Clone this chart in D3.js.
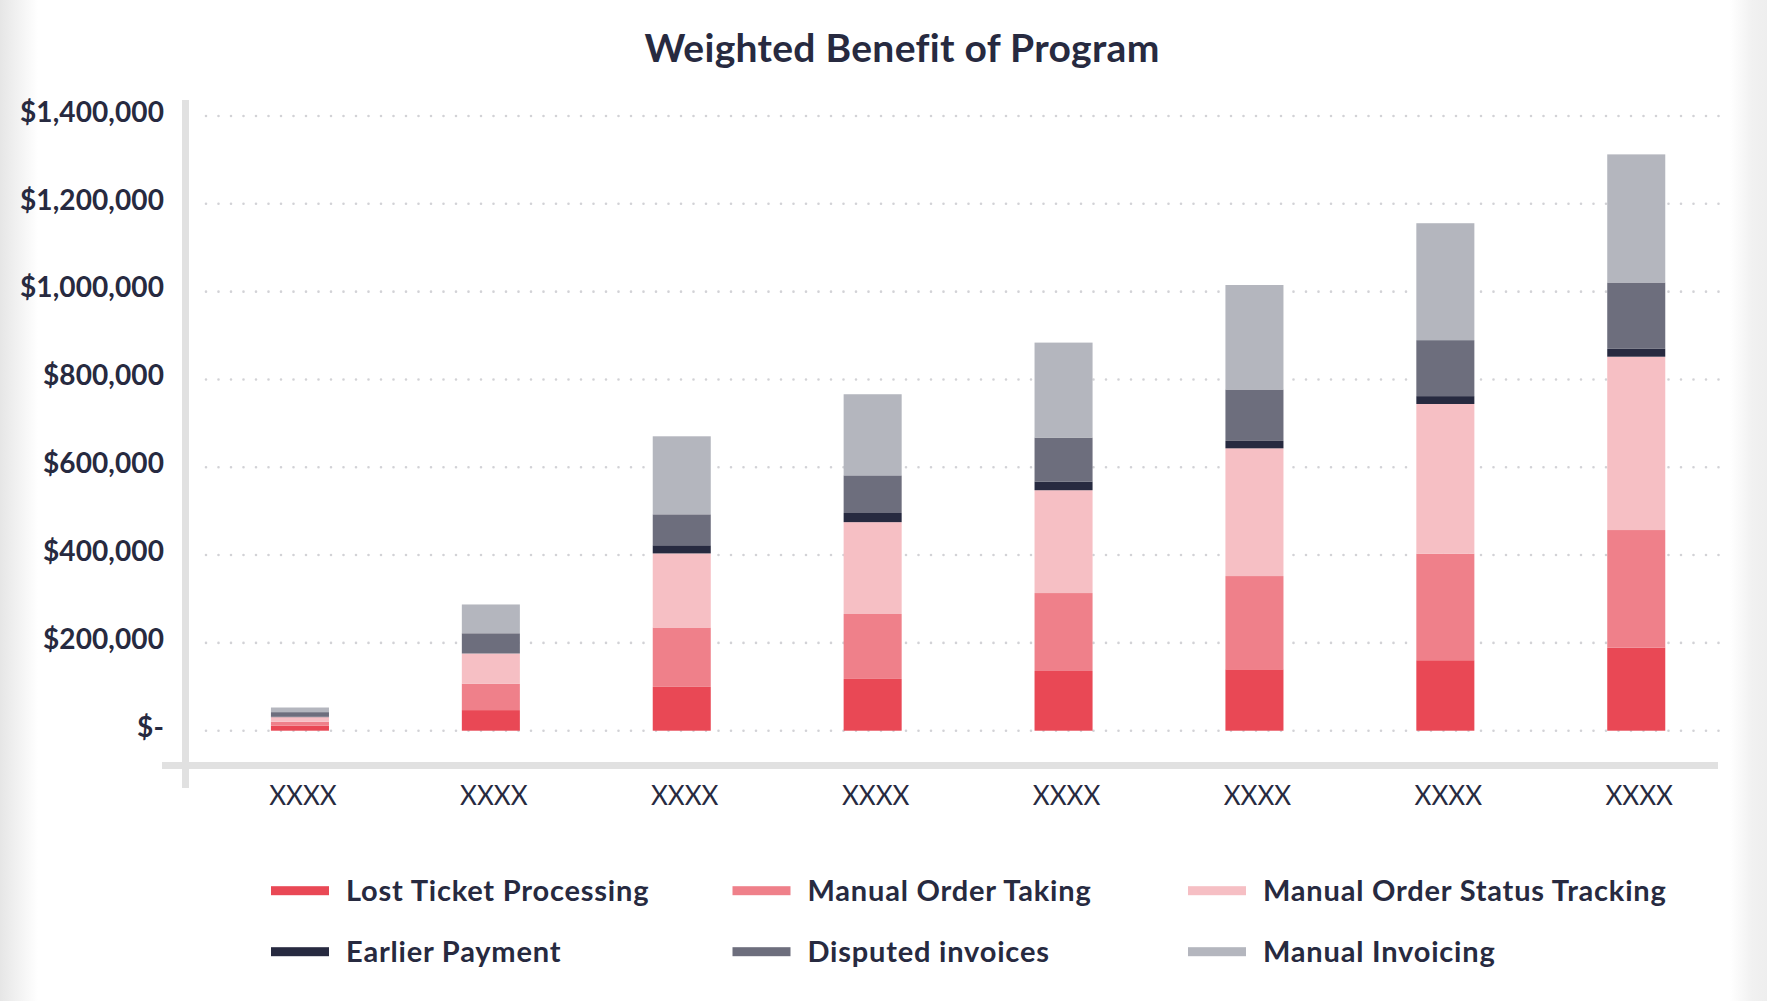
<!DOCTYPE html>
<html>
<head>
<meta charset="utf-8">
<script src="https://cdn.jsdelivr.net/npm/d3@7"></script>
<style>
  body { margin: 0; background: #ffffff; }
  svg { display: block; }
  text { font-family: Lato, "Open Sans", sans-serif; fill: #272a40; }
</style>
</head>
<body>
<svg id="mainSvg" width="1767" height="1001"></svg>
<script>
// values, one segment per series (not cumulative)
var years = ["XXXX","XXXX","XXXX","XXXX","XXXX","XXXX","XXXX","XXXX"];
var lostTicket    = [11300, 46900, 99800, 117900, 136000, 139800, 160500, 188900];
var orderTaking   = [9100, 60300, 135200, 147900, 177500, 212400, 242700, 268100];
var statusTrack   = [10500, 68600, 168800, 209200, 234200, 290900, 340900, 394800];
var earlyPayment  = [1000, 0, 18500, 20800, 19800, 16900, 17900, 17900];
var disputed      = [10400, 46100, 70500, 85700, 100100, 117100, 127500, 151100];
var manualInvoice = [10500, 65600, 177700, 184800, 216300, 238000, 266300, 291800];
var seriesNames = ["Lost Ticket Processing","Manual Order Taking","Manual Order Status Tracking",
                   "Earlier Payment","Disputed invoices","Manual Invoicing"];
var seriesColors = ["#e94855","#ef808a","#f6bfc4","#272a40","#6d6e7d","#b4b6be"];
var yTicks = [0, 200000, 400000, 600000, 800000, 1000000, 1200000, 1400000];

var svg = d3.select("#mainSvg");
var W = 1767, H = 1001;

// page background with the grey edges of the screenshot
var defs = svg.append("defs");
var gl = defs.append("linearGradient").attr("id","leftEdge");
gl.append("stop").attr("offset","0%").attr("stop-color","#e6e6e6");
gl.append("stop").attr("offset","100%").attr("stop-color","#ffffff");
var gr = defs.append("linearGradient").attr("id","rightEdge");
gr.append("stop").attr("offset","0%").attr("stop-color","#ffffff");
gr.append("stop").attr("offset","60%").attr("stop-color","#f1f1f1");
gr.append("stop").attr("offset","100%").attr("stop-color","#eeeeee");
svg.append("rect").attr("width",W).attr("height",H).attr("fill","#ffffff");
svg.append("rect").attr("x",0).attr("y",0).attr("width",38).attr("height",H).attr("fill","url(#leftEdge)");
svg.append("rect").attr("x",1730).attr("y",0).attr("width",37).attr("height",H).attr("fill","url(#rightEdge)");

var y = d3.scaleLinear().domain([0, 1400000]).range([730.7, 116]);
var x = d3.scaleBand().domain(d3.range(years.length))
  .range([204.5, 1731.7]).paddingInner(0.696).paddingOuter(0.348);

// title
svg.append("text")
  .attr("x", 902).attr("y", 62)
  .attr("text-anchor","middle")
  .attr("font-size", 39).attr("font-weight", 700)
  .attr("letter-spacing", 0.3)
  .text("Weighted Benefit of Program");

// dotted gridlines
svg.selectAll(".grid")
  .data(yTicks)
  .enter().append("line")
    .attr("class","grid")
    .attr("x1", 206).attr("x2", 1720)
    .attr("y1", function(d){ return y(d); })
    .attr("y2", function(d){ return y(d); })
    .attr("stroke","#d2d2d6")
    .attr("stroke-width", 2.6)
    .attr("stroke-linecap","round")
    .attr("stroke-dasharray","0,12.5");

// y tick labels
var fmt = d3.format(",");
svg.selectAll(".ytick")
  .data(yTicks)
  .enter().append("text")
    .attr("class","ytick")
    .attr("x", 164)
    .attr("y", function(d){ return y(d) - 4; })
    .attr("dy","0.35em")
    .attr("text-anchor","end")
    .attr("font-size", 28).attr("font-weight", 700)
    .attr("letter-spacing", 0.1)
    .text(function(d){ return d === 0 ? "$-" : "$" + fmt(d); });

// stacked bars
var rows = years.map(function(yr, i){
  return {i: i, s0: lostTicket[i], s1: orderTaking[i], s2: statusTrack[i],
          s3: earlyPayment[i], s4: disputed[i], s5: manualInvoice[i]};
});
var stack = d3.stack().keys(["s0","s1","s2","s3","s4","s5"])(rows);

svg.selectAll(".series")
  .data(stack)
  .enter().append("g")
    .attr("class","series")
    .attr("fill", function(d, k){ return seriesColors[k]; })
  .selectAll("rect")
  .data(function(d){ return d; })
  .enter().append("rect")
    .attr("x", function(d){ return x(d.data.i); })
    .attr("width", x.bandwidth())
    .attr("y", function(d){ return y(d[1]); })
    .attr("height", function(d){ return y(d[0]) - y(d[1]); });

// axis lines (thick light grey, crossing at bottom left)
svg.append("line")
  .attr("x1", 162).attr("x2", 1718).attr("y1", 765.5).attr("y2", 765.5)
  .attr("stroke","#e1e1e1").attr("stroke-width", 7);
svg.append("line")
  .attr("x1", 185.5).attr("x2", 185.5).attr("y1", 100).attr("y2", 788)
  .attr("stroke","#e1e1e1").attr("stroke-width", 7);

// x labels
svg.selectAll(".xlabel")
  .data(years)
  .enter().append("text")
    .attr("class","xlabel")
    .attr("x", function(d, i){ return x(i) + x.bandwidth()/2 + 3; })
    .attr("y", 805)
    .attr("text-anchor","middle")
    .attr("font-size", 26)
    .text(function(d){ return d; });

// legend, 3 columns x 2 rows
var legendCols = [271, 732.5, 1188];
var legendRows = [890.7, 951.7];
var legend = svg.selectAll(".legend")
  .data(seriesNames)
  .enter().append("g")
    .attr("class","legend")
    .attr("transform", function(d, i){
      return "translate(" + legendCols[i % 3] + "," + legendRows[Math.floor(i / 3)] + ")";
    });
legend.append("rect")
  .attr("x", 0).attr("y", -4.5)
  .attr("width", 58).attr("height", 9)
  .attr("fill", function(d, i){ return seriesColors[i]; });
legend.append("text")
  .attr("x", 75).attr("y", 0)
  .attr("dy","0.35em")
  .attr("font-size", 29).attr("font-weight", 700)
  .attr("letter-spacing", 0.8)
  .text(function(d){ return d; });
</script>
</body>
</html>
